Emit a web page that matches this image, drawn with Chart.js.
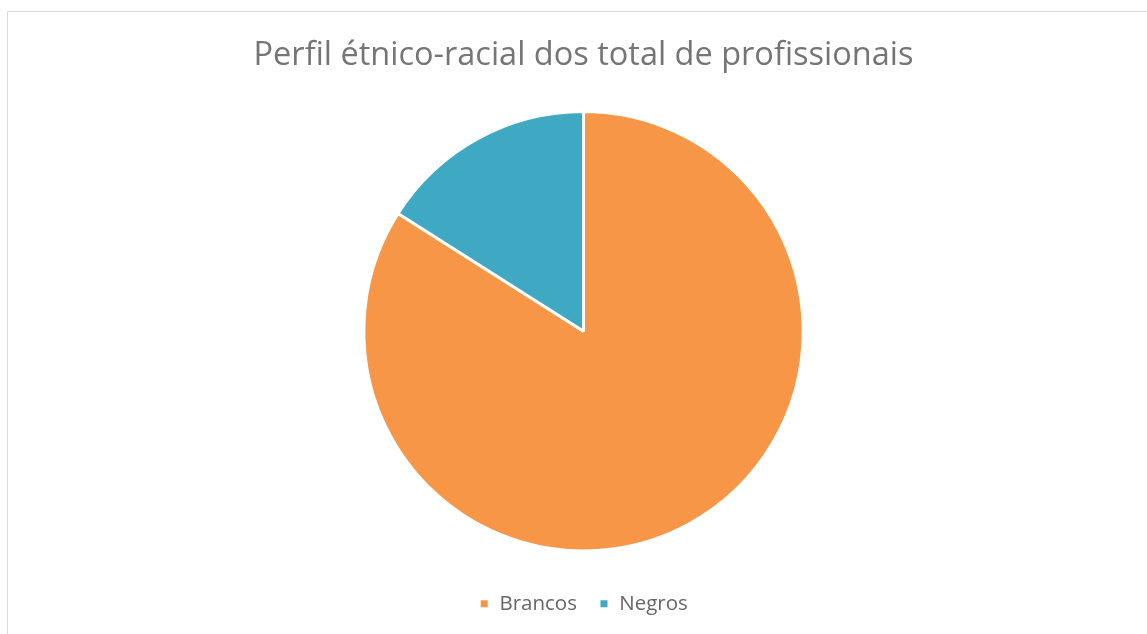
<!DOCTYPE html>
<html>
<head>
<meta charset="utf-8">
<script src="https://cdn.jsdelivr.net/npm/chart.js@4"></script>
<style>
    html, body { margin: 0; padding: 0; background: #fff; overflow: hidden; }
    #box {
        position: absolute;
        left: 7px;
        top: 11px;
        width: 1153px;
        height: 642px;
        border: 1px solid #d9d9d9;
        box-sizing: border-box;
    }
</style>
</head>
<body>
<div id="box"><canvas id="chart"></canvas></div>
<script>
const labels = ['Brancos', 'Negros'];
const values = [84, 16];
const colors = ['#F79646', '#3FA9C4'];

const ctx = document.querySelector('#chart').getContext('2d');
const chart = new Chart(ctx, {
    type: 'pie',
    data: {
        labels: labels,
        datasets: [{
            data: values,
            backgroundColor: colors,
            borderColor: '#ffffff',
            borderWidth: 3
        }]
    },
    options: {
        responsive: true,
        maintainAspectRatio: false,
        animation: false,
        radius: '92%',
        layout: {
            padding: { top: 0, bottom: 28 }
        },
        plugins: {
            title: {
                display: true,
                text: 'Perfil étnico-racial dos total de profissionais',
                color: '#757575',
                font: { family: 'Open Sans', size: 32.5, weight: 'normal' },
                padding: { top: 24, bottom: 16 }
            },
            legend: {
                position: 'bottom',
                labels: {
                    color: '#666666',
                    font: { family: 'Open Sans', size: 20.5 },
                    boxWidth: 10,
                    boxHeight: 10,
                    padding: 22
                }
            },
            tooltip: { enabled: false }
        }
    }
});
</script>
</body>
</html>
